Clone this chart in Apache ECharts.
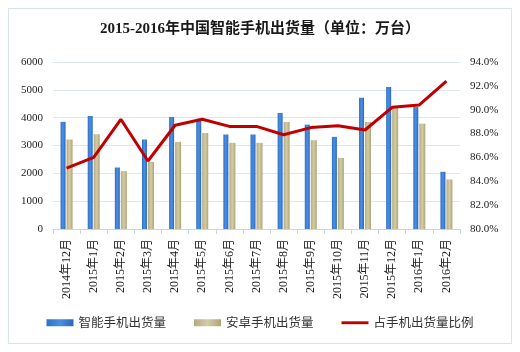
<!DOCTYPE html>
<html><head><meta charset="utf-8">
<script src="https://cdn.jsdelivr.net/npm/echarts@6/dist/echarts.min.js"></script>
<style>html,body{margin:0;padding:0;background:#fff}#c{width:520px;height:352px}
#frame{position:absolute;left:8px;top:8px;width:504px;height:336px;border:1px solid #d5e3f0;box-sizing:border-box;pointer-events:none}</style>
</head><body><div id="frame"></div><div id="c"></div>
<script>
const categories = ['2014年12月','2015年1月','2015年2月','2015年3月','2015年4月','2015年5月','2015年6月','2015年7月','2015年8月','2015年9月','2015年10月','2015年11月','2015年12月','2016年1月','2016年2月'];
const smartShipments = [3850, 4060, 2210, 3215, 4025, 3960, 3395, 3395, 4170, 3750, 3310, 4720, 5100, 4380, 2055];
const androidShipments = [3215, 3405, 2080, 2410, 3130, 3450, 3095, 3095, 3845, 3190, 2555, 3845, 4350, 3785, 1780];
const androidRatio = [85.1, 86.0, 89.2, 85.7, 88.7, 89.2, 88.6, 88.6, 87.9, 88.5, 88.65, 88.3, 90.2, 90.4, 92.4];
const leftTicks = [0, 6000, 1000];
const rightTicks = [80, 94, 2];

const serif = '"Liberation Serif","Noto Sans CJK SC",serif';
const chart = echarts.init(document.getElementById('c'));
chart.setOption({
  animation: false,
  title: {
    text: '2015-2016年中国智能手机出货量（单位：万台）',
    left: 'center', top: 17,
    textStyle: {fontFamily: serif, fontWeight: 'bold', fontSize: 15, color: '#1a1a1a'}
  },
  legend: {
    bottom: 18, left: 'center', itemGap: 28, itemWidth: 27, itemHeight: 7,
    textStyle: {fontFamily: '"Noto Sans CJK SC",sans-serif', fontSize: 12.5, color: '#333'},
    data: [
      {name: '智能手机出货量', icon: 'rect'},
      {name: '安卓手机出货量', icon: 'rect'},
      {name: '占手机出货量比例', icon: 'path://M0,0h30v3.2h-30z', itemStyle: {color: '#c00000'}}
    ]
  },
  grid: {left: 53, right: 60, top: 62, bottom: 123},
  xAxis: {
    type: 'category', data: categories,
    axisLine: {lineStyle: {color: '#c9d5e5'}},
    axisTick: {show: true, lineStyle: {color: '#c9d5e5'}},
    axisLabel: {rotate: 90, fontFamily: serif, fontSize: 12, color: '#222', margin: 10, interval: 0}
  },
  yAxis: [
    {type: 'value', min: leftTicks[0], max: leftTicks[1], interval: leftTicks[2],
     axisLine: {show: false}, axisTick: {show: false},
     axisLabel: {fontFamily: serif, fontSize: 11, color: '#222', margin: 10, formatter: v => String(v)},
     splitLine: {lineStyle: {color: '#dde6f1'}}},
    {type: 'value', min: rightTicks[0], max: rightTicks[1], interval: rightTicks[2],
     axisLine: {show: false}, axisTick: {show: false},
     axisLabel: {fontFamily: serif, fontSize: 11, color: '#222', margin: 10,
       formatter: v => v.toFixed(1) + '%'},
     splitLine: {show: false}}
  ],
  series: [
    {name: '智能手机出货量', type: 'bar', data: smartShipments, barWidth: 5, barGap: '20%',
     itemStyle: {color: new echarts.graphic.LinearGradient(0,0,1,0,[{offset:0,color:'#2f6fc9'},{offset:0.5,color:'#4a90e2'},{offset:1,color:'#2a66bd'}])}},
    {name: '安卓手机出货量', type: 'bar', data: androidShipments, barWidth: 6,
     itemStyle: {color: new echarts.graphic.LinearGradient(0,0,1,0,[{offset:0,color:'#b5ab80'},{offset:0.5,color:'#d4cca6'},{offset:1,color:'#aea475'}])}},
    {name: '占手机出货量比例', type: 'line', yAxisIndex: 1, data: androidRatio,
     symbol: 'none', lineStyle: {color: '#c00000', width: 3}, itemStyle: {color: '#c00000'}, z: 5}
  ]
});
</script></body></html>
